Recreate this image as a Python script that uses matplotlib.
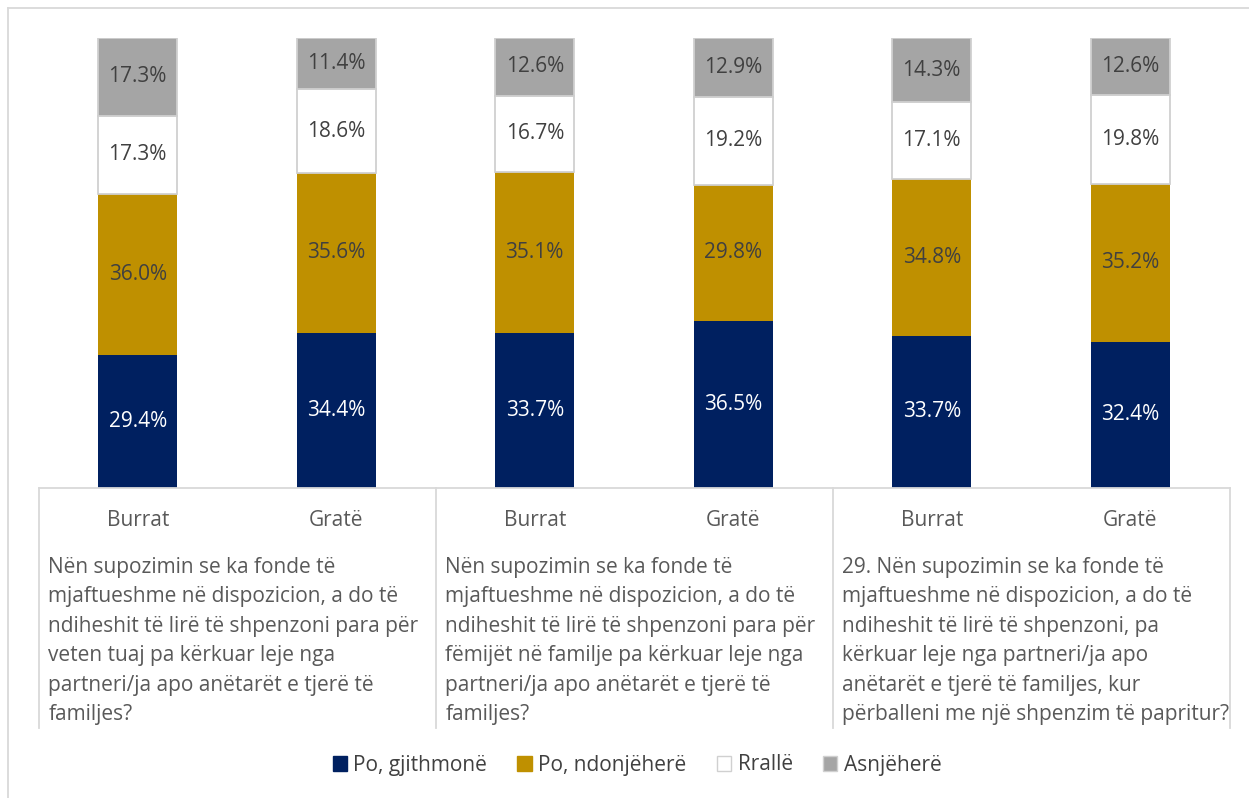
import numpy as np
import matplotlib
matplotlib.use("Agg")
import matplotlib.pyplot as plt
from matplotlib.patches import Patch
from matplotlib.lines import Line2D
import matplotlib.transforms as mtransforms

plt.rcParams["font.family"] = ["Open Sans", "DejaVu Sans"]

# ------------------------------------------------------------------ data
categories = ["Burrat", "Gratë", "Burrat", "Gratë", "Burrat", "Gratë"]
questions = [
    "Nën supozimin se ka fonde të\nmjaftueshme në dispozicion, a do të\n"
    "ndiheshit të lirë të shpenzoni para për\nveten tuaj pa kërkuar leje nga\n"
    "partneri/ja apo anëtarët e tjerë të\nfamiljes?",
    "Nën supozimin se ka fonde të\nmjaftueshme në dispozicion, a do të\n"
    "ndiheshit të lirë të shpenzoni para për\nfëmijët në familje pa kërkuar leje nga\n"
    "partneri/ja apo anëtarët e tjerë të\nfamiljes?",
    "29. Nën supozimin se ka fonde të\nmjaftueshme në dispozicion, a do të\n"
    "ndiheshit të lirë të shpenzoni, pa\nkërkuar leje nga partneri/ja apo\n"
    "anëtarët e tjerë të familjes, kur\npërballeni me një shpenzim të papritur?",
]
series_names = ["Po, gjithmonë", "Po, ndonjëherë", "Rrallë", "Asnjëherë"]
po_gjithmone = [29.4, 34.4, 33.7, 36.5, 33.7, 32.4]
po_ndonjehere = [36.0, 35.6, 35.1, 29.8, 34.8, 35.2]
rralle = [17.3, 18.6, 16.7, 19.2, 17.1, 19.8]
asnjehere = [17.3, 11.4, 12.6, 12.9, 14.3, 12.6]

colors = ["#002060", "#BF9000", "#FFFFFF", "#A5A5A5"]
edges = ["#002060", "#BF9000", "#D0D0D0", "#D0D0D0"]
label_colors = ["white", "#404040", "#404040", "#404040"]
FS = 15

W, H = 1249, 798
fig = plt.figure(figsize=(W / 100, H / 100), dpi=100)
ax = fig.add_axes([38.5 / W, 1 - 487.5 / H, (1229.5 - 38.5) / W, (487.5 - 38) / H])

vals = np.array([po_gjithmone, po_ndonjehere, rralle, asnjehere])
tot = vals.sum(axis=0)
pct = vals / tot * 100  # 100% stacked
x = np.arange(len(categories))
bottom = np.zeros(len(categories))
for i in range(4):
    ax.bar(x, pct[i], 0.40, bottom=bottom, color=colors[i], edgecolor=edges[i],
           lw=1.3 if i >= 2 else 0, zorder=2)
    for j in range(len(x)):
        ax.text(x[j], bottom[j] + pct[i][j] / 2, f"{vals[i][j]:.1f}%", ha="center",
                va="center", fontsize=FS, color=label_colors[i], zorder=3)
    bottom += pct[i]

ax.set_xlim(-0.5, len(x) - 0.5)
ax.set_ylim(0, 100)
ax.axis("off")

# multi-level category axis
tr = mtransforms.blended_transform_factory(ax.transData, fig.transFigure)
lc = "#D9D9D9"
y_axis = 1 - 487.5 / H
y_bot = 1 - 728 / H
ax.plot([-0.5, len(x) - 0.5], [y_axis, y_axis], transform=tr, color=lc, lw=1.3,
        clip_on=False)
for g in range(4):
    xb = -0.5 + 2 * g
    ax.plot([xb, xb], [y_axis, y_bot], transform=tr, color=lc, lw=1.3, clip_on=False)
for j, c in enumerate(categories):
    ax.text(x[j], 1 - 520 / H, c, transform=tr, ha="center", va="center",
            fontsize=FS, color="#595959")
for g, q in enumerate(questions):
    ax.text(-0.5 + 2 * g + 0.05, 1 - 557 / H, q, transform=tr, ha="left", va="top",
            fontsize=FS, color="#595959", linespacing=1.53)

# outer border (top / left)
fig.add_artist(Line2D([8 / W, 8 / W], [0, 1 - 8 / H], color=lc, lw=1.3))
fig.add_artist(Line2D([8 / W, 1], [1 - 8 / H, 1 - 8 / H], color=lc, lw=1.3))

handles = [Patch(facecolor=colors[i], edgecolor=edges[i], lw=1.0) for i in range(4)]
fig.legend(handles, series_names, loc="center", bbox_to_anchor=(637 / W, 1 - 765 / H),
           ncol=4, frameon=False, fontsize=FS, handlelength=0.7, handleheight=0.7,
           handletextpad=0.3, columnspacing=1.45, labelcolor="#404040")

fig.savefig("out.png", dpi=100)
